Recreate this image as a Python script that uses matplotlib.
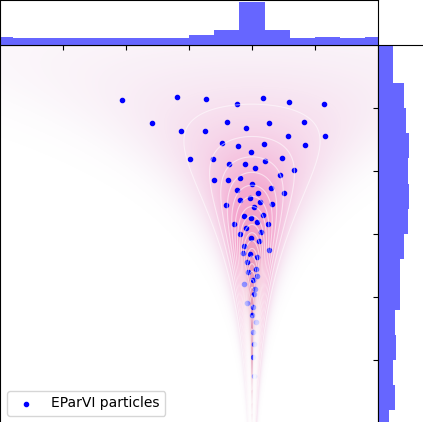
import matplotlib
matplotlib.use("Agg")
import matplotlib.pyplot as plt
import numpy as np

# particle positions
part_x = [-10.34, -5.93, -3.65, -1.19, 0.90, 2.94, 5.71, -7.96, -5.66, -3.71,
          -2.01, -0.48, 1.37, 4.15, 2.86, 5.79, -2.36, -1.11, 0.98, 4.21,
          -0.08, -4.90, -3.12, -1.83, -0.53, 1.03, 2.38, 0.24, 3.33, -2.99,
          -1.90, -0.93, 2.20, 0.00, 1.48, -1.19, 0.50, 2.52, -0.93, -0.13,
          0.66, -2.04, 1.61, 0.18, -0.66, -0.08, 0.85, 0.37, -1.45, -0.48,
          1.27, 0.71, -0.93, -0.06, 0.56, 1.35, -0.66, -0.71, -0.13, 0.40,
          -0.37, 0.32, -0.32, 0.37, 0.08, -0.66, 0.24, 0.16, -0.37, 0.10,
          0.02, 0.29, 0.06, 0.16, 0.06, 0.13]
part_y = [10.63, 10.90, 10.74, 10.29, 10.82, 10.48, 10.29, 8.79, 8.15, 8.20,
          8.91, 8.41, 8.81, 8.91, 7.78, 7.78, 7.25, 6.98, 7.17, 7.04,
          6.53, 5.93, 5.93, 5.56, 5.56, 5.82, 6.01, 5.24, 5.06, 4.26,
          4.26, 4.44, 4.71, 3.99, 3.67, 3.49, 3.28, 3.28, 2.70, 2.83,
          2.52, 2.30, 2.36, 2.17, 1.40, 1.27, 1.53, 0.93, 0.77, 0.50,
          0.77, 0.13, 0.02, -0.32, -0.58, -1.27, -0.95, -1.53, -1.59, -1.80,
          -2.20, -2.78, -3.02, -3.31, -3.67, -3.94, -4.39, -4.79, -5.45, -5.82,
          -6.40, -7.01, -7.78, -8.75, -9.79, -11.29]

# marginal histograms
x_edges = [-21, -19, -17, -15, -13, -11, -9, -7, -5, -3, -1, 1, 3, 5, 7, 9, 11]
x_heights = [8, 6.7, 6.7, 6.7, 6.7, 6.7, 6.7, 6.7, 10, 15, 42.7, 15, 7.3, 8.3, 6.7, 8.3]
y_edges = [-16, -14, -12, -10, -8, -6, -4, -2, 0, 2, 4, 6, 8, 10, 12, 14, 16]
y_heights = [10.7, 16.7, 15, 18.3, 16.7, 22.3, 22.3, 25.7, 30, 31.3, 30, 31.3, 28.3, 25.7, 15, 15]

W, H = 423, 422
fig = plt.figure(figsize=(W / 100, H / 100), dpi=100)
ax = fig.add_axes([0, -1 / H, 378 / W, 378 / H])
ax_top = fig.add_axes([0, 377 / H, 378 / W, 45 / H], sharex=ax)
ax_right = fig.add_axes([378 / W, -1 / H, 60 / W, 378 / H], sharey=ax)

# funnel density in the background
gx, gy = np.meshgrid(np.linspace(-20, 10, 600), np.linspace(-15, 15, 600))
sd = 1.3 * np.exp(gy / 6.4)
logp = -gy ** 2 / (2 * 8 ** 2) - np.log(sd) - gx ** 2 / (2 * sd ** 2)
logp -= logp.max()
dens = np.exp(logp)

v = dens ** 0.4
rgba = plt.get_cmap("PuRd")(0.35 + 0.45 * v)
rgba[..., 3] = 0.42 * np.clip(v * 1.8, 0, 1)
ax.imshow(rgba, extent=(-20, 10, -15, 15), origin="lower", aspect="auto",
          interpolation="bilinear", zorder=1)
ax.scatter(part_x, part_y, s=9, color="blue", zorder=2, label="EParVI particles")
ax.contour(gx, gy, dens, levels=np.linspace(0.04, 1, 22), colors="white",
           linewidths=0.8, alpha=0.55, zorder=3)

ax.set_xlim(-20, 10)
ax.set_ylim(-15, 15)
ax.set_xticks([-15, -10, -5, 0, 5])
ax.set_yticks([-10, -5, 0, 5, 10])
ax.tick_params(labelleft=False, labelbottom=False)
ax.legend(loc="lower left", fontsize=10)

ax_top.stairs(x_heights, x_edges, fill=True, color="blue", alpha=0.6)
ax_top.set_ylim(0, 45)
ax_top.tick_params(labelbottom=False, labelleft=False)

ax_right.stairs(y_heights, y_edges, fill=True, color="blue", alpha=0.6,
                orientation="horizontal")
ax_right.set_xlim(0, 60)
ax_right.tick_params(labelleft=False, labelbottom=False)

fig.savefig("out.png", dpi=100)
